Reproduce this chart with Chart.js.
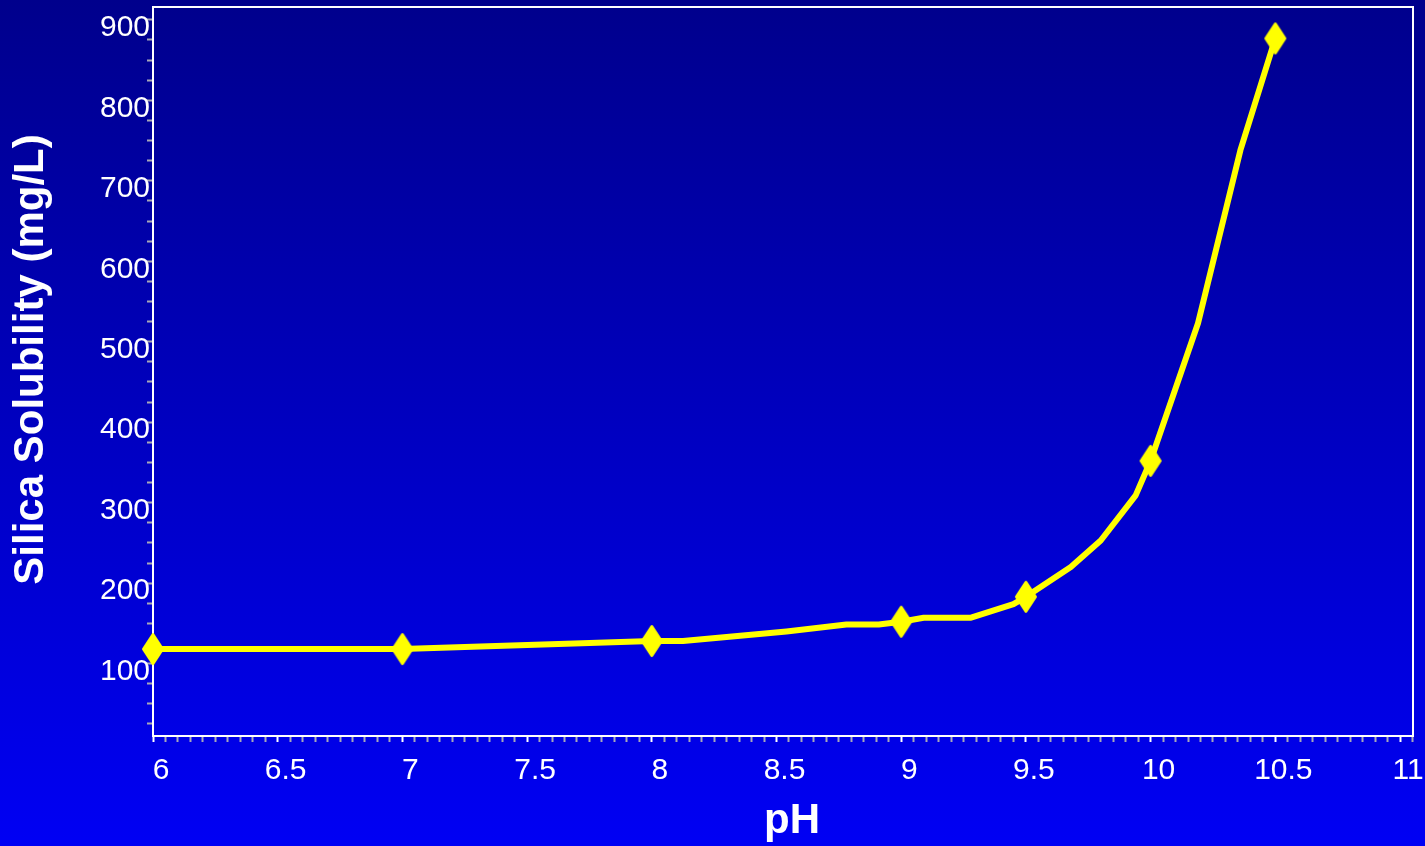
<!DOCTYPE html>
<html>
<head>
<meta charset="utf-8">
<title>Silica Solubility vs pH</title>
<script src="https://cdn.jsdelivr.net/npm/chart.js@4.4.1/dist/chart.umd.min.js"></script>
<style>
  html, body { margin: 0; padding: 0; }
  body {
    width: 1425px; height: 846px; overflow: hidden;
    background: linear-gradient(to bottom, #00008c 0%, #0000f4 100%);
  }
  canvas { display: block; }
</style>
</head>
<body>
<canvas id="chart" width="1425" height="846"></canvas>
<script>
// Silica solubility curve (mg/L) against pH
const phValues   = [6.0, 7.0, 8.0, 8.125, 8.54, 8.78, 8.91, 9.0, 9.09, 9.28, 9.45, 9.5, 9.68, 9.80, 9.94, 10.0, 10.19, 10.36, 10.5];
const solubility = [118, 118, 128, 128,   140,  148.5, 148.5, 152, 157, 157,  174,  183, 220,  253,  309,  352,  523,   738,   877];

// pH values that carry a diamond marker
const markedPH = [6, 7, 8, 9, 9.5, 10, 10.5];

// Labelled (major) ticks and minor tick spacing
const xMajorTicks = [6, 6.5, 7, 7.5, 8, 8.5, 9, 9.5, 10, 10.5, 11];
const yMajorTicks = [100, 200, 300, 400, 500, 600, 700, 800, 900];
const xMinorStep = 0.05;
const yMinorStep = 25;

const X_MIN = 6, X_MAX = 11.052;
const Y_MIN = 10, Y_MAX = 916;

const FONT = "'Liberation Sans', Arial, Helvetica, sans-serif";

function near(a, b) { return Math.abs(a - b) < 1e-6; }
function isMajor(list, v) { return list.some(m => near(m, v)); }

function minorTicks(min, max, step) {
  const out = [];
  const start = Math.ceil(min / step - 1e-9);
  for (let i = start; i * step <= max + 1e-9; i++) {
    out.push({ value: Math.round(i * step * 1000) / 1000 });
  }
  return out;
}

// Tall yellow diamond used as the point marker
function makeDiamond() {
  const c = document.createElement('canvas');
  c.width = 24; c.height = 34;
  const g = c.getContext('2d');
  g.fillStyle = '#ffff00';
  g.strokeStyle = '#ffff00';
  g.lineWidth = 3;
  g.lineJoin = 'round';
  g.beginPath();
  g.moveTo(12, 2.5);
  g.lineTo(21.5, 17);
  g.lineTo(12, 31.5);
  g.lineTo(2.5, 17);
  g.closePath();
  g.fill();
  g.stroke();
  return c;
}
const diamond = makeDiamond();

// White frame around the plotting area
const framePlugin = {
  id: 'plotFrame',
  beforeDatasetsDraw(chart) {
    const { ctx, chartArea: a } = chart;
    ctx.save();
    ctx.strokeStyle = '#ffffff';
    ctx.lineWidth = 2;
    ctx.strokeRect(a.left, a.top, a.right - a.left, a.bottom - a.top);
    ctx.restore();
  }
};

// Axes do not reserve extra room for half-labels at their ends
const noEdgePadding = () => ({ left: 0, top: 0, right: 0, bottom: 0 });
const edgePaddingPlugin = {
  id: 'edgePadding',
  beforeLayout(chart) {
    Object.values(chart.scales).forEach(s => { s.getPadding = noEdgePadding; });
  }
};

// Nudge an axis title along its axis
function shiftTitle(scale, dx, dy) {
  if (scale._titleShifted) return;
  const orig = scale.drawTitle;
  scale.drawTitle = function () {
    this.ctx.save();
    this.ctx.translate(dx, dy);
    orig.apply(this, arguments);
    this.ctx.restore();
  };
  scale._titleShifted = true;
}
const titleShiftPlugin = {
  id: 'titleShift',
  afterLayout(chart) {
    shiftTitle(chart.scales.x, 9, 0);
    shiftTitle(chart.scales.y, 0, -12);
  }
};

new Chart(document.getElementById('chart'), {
  type: 'line',
  data: {
    datasets: [{
      data: phValues.map((x, i) => ({ x, y: solubility[i] })),
      borderColor: '#ffff00',
      borderWidth: 6,
      tension: 0,
      fill: false,
      clip: false,
      pointStyle: diamond,
      pointBorderWidth: 0,
      pointRadius: ctx => (ctx.raw && isMajor(markedPH, ctx.raw.x)) ? 1 : 0,
      pointHoverRadius: 0,
      borderJoinStyle: 'round',
      borderCapStyle: 'round'
    }]
  },
  options: {
    responsive: false,
    animation: false,
    devicePixelRatio: 1,
    layout: { autoPadding: false, padding: { top: 7, right: 12, left: 0, bottom: 0 } },
    plugins: { legend: { display: false }, tooltip: { enabled: false } },
    scales: {
      x: {
        type: 'linear',
        min: X_MIN,
        max: X_MAX,
        afterBuildTicks: s => { s.ticks = minorTicks(X_MIN, X_MAX, xMinorStep); },
        afterFit: s => { s.height = 110; s.paddingLeft = 0; s.paddingRight = 0; },
        border: { display: false },
        grid: {
          drawOnChartArea: false,
          drawTicks: true,
          tickLength: 6,
          tickWidth: 2,
          tickColor: ctx => isMajor(xMajorTicks, ctx.tick.value) ? '#ffffff' : '#a8a8b8'
        },
        ticks: {
          autoSkip: false,
          maxRotation: 0,
          padding: 11,
          labelOffset: 8,
          color: '#ffffff',
          font: { family: FONT, size: 30 },
          callback: v => isMajor(xMajorTicks, v) ? String(v) : ''
        },
        title: {
          display: true,
          text: 'pH',
          color: '#ffffff',
          font: { family: FONT, size: 42, weight: 'bold', lineHeight: 1.16 },
          padding: 0
        }
      },
      y: {
        type: 'linear',
        min: Y_MIN,
        max: Y_MAX,
        afterBuildTicks: s => { s.ticks = minorTicks(Y_MIN, Y_MAX, yMinorStep); },
        afterFit: s => { s.width = 153; s.paddingTop = 0; s.paddingBottom = 0; },
        border: { display: false },
        grid: {
          drawOnChartArea: false,
          drawTicks: true,
          tickLength: 6,
          tickWidth: 2,
          tickColor: '#a8a8b8'
        },
        ticks: {
          autoSkip: false,
          padding: -3,
          labelOffset: 8,
          color: '#ffffff',
          font: { family: FONT, size: 30 },
          callback: v => isMajor(yMajorTicks, v) ? String(v) : ''
        },
        title: {
          display: true,
          text: 'Silica Solubility (mg/L)',
          color: '#ffffff',
          font: { family: FONT, size: 42, weight: 'bold', lineHeight: 1.2 },
          padding: { top: 6, bottom: 0 }
        }
      }
    }
  },
  plugins: [framePlugin, edgePaddingPlugin, titleShiftPlugin]
});
</script>
</body>
</html>
